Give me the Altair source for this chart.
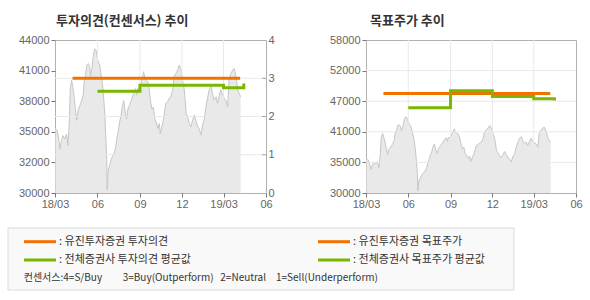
import altair as alt
import pandas as pd

# ---------------- data ----------------
price_dates = [
    "2018-03-01", "2018-03-06", "2018-03-09", "2018-03-12", "2018-03-15", "2018-03-18",
    "2018-03-22", "2018-03-26", "2018-03-29", "2018-04-01", "2018-04-03", "2018-04-06",
    "2018-04-08", "2018-04-11", "2018-04-14", "2018-04-17", "2018-04-20", "2018-04-24",
    "2018-04-27", "2018-05-01", "2018-05-03", "2018-05-06", "2018-05-09", "2018-05-12",
    "2018-05-15", "2018-05-17", "2018-05-20", "2018-05-23", "2018-05-26", "2018-05-29",
    "2018-06-01", "2018-06-04", "2018-06-06", "2018-06-10", "2018-06-13", "2018-06-17",
    "2018-06-21", "2018-06-22", "2018-06-24", "2018-06-27", "2018-07-01", "2018-07-04",
    "2018-07-08", "2018-07-11", "2018-07-14", "2018-07-17", "2018-07-19", "2018-07-22",
    "2018-07-25", "2018-07-28", "2018-07-31", "2018-08-03", "2018-08-06", "2018-08-09",
    "2018-08-13", "2018-08-16", "2018-08-19", "2018-08-22", "2018-08-25", "2018-08-27",
    "2018-08-31", "2018-09-04", "2018-09-07", "2018-09-09", "2018-09-12", "2018-09-15",
    "2018-09-18", "2018-09-21", "2018-09-24", "2018-09-27", "2018-09-30", "2018-10-03",
    "2018-10-06", "2018-10-10", "2018-10-13", "2018-10-15", "2018-10-20", "2018-10-23",
    "2018-10-27", "2018-10-31", "2018-11-03", "2018-11-07", "2018-11-11", "2018-11-14",
    "2018-11-18", "2018-11-22", "2018-11-25", "2018-11-29", "2018-12-02", "2018-12-06",
    "2018-12-10", "2018-12-13", "2018-12-17", "2018-12-20", "2018-12-24", "2018-12-28",
    "2018-12-31", "2019-01-04", "2019-01-07", "2019-01-11", "2019-01-15", "2019-01-18",
    "2019-01-22", "2019-01-26", "2019-01-29", "2019-02-02", "2019-02-05", "2019-02-09",
    "2019-02-13", "2019-02-16", "2019-02-20", "2019-02-23", "2019-02-27", "2019-03-03",
    "2019-03-06", "2019-03-10", "2019-03-13", "2019-03-17", "2019-03-21", "2019-03-24",
    "2019-03-28", "2019-04-01", "2019-04-04", "2019-04-07",
]
price_values = [
    35950, 35700, 34950, 34050, 34800, 35250,
    34950, 35400, 34350, 36500, 39550, 40300,
    39850, 38950, 37700, 36650, 37550, 38000,
    38350, 38950, 40150, 40750, 41700, 41850,
    41550, 40750, 41400, 42600, 43200, 43050,
    42300, 41850, 41700, 40450, 39550, 37100,
    33100, 30300, 32000, 32500, 33100, 33400,
    33750, 34350, 35250, 35900, 36500, 37100,
    38000, 38450, 37400, 36800, 37700, 38000,
    38450, 38800, 39250, 39550, 38950, 39550,
    39550, 40150, 40750, 41100, 40450, 40300,
    40150, 39550, 38350, 37700, 37850, 36800,
    36500, 35900, 36350, 35400, 36350, 37000,
    38200, 38350, 38650, 38800, 39450, 40650,
    40950, 41250, 41700, 41250, 40350, 39450,
    37300, 37000, 36350, 36050, 36650, 37150,
    36650, 36050, 35900, 35300, 36350, 36650,
    37900, 38800, 39450, 39750, 39100, 38500,
    38800, 38200, 38950, 39450, 38950, 38650,
    38500, 37900, 40350, 40950, 41250, 41400,
    40650, 39450, 39100, 38800,
]

# investment opinion (0-4 scale)
yj_op_dates = ["2018-04-08", "2019-04-06"]
yj_op_values = [3, 3]
avg_op_dates = ["2018-06-01", "2018-09-01", "2019-03-01", "2019-04-14"]
avg_op_values = [2.66, 2.82, 2.75, 2.86]

# target price
yj_tp_dates = ["2018-04-08", "2019-04-06"]
yj_tp_values = [48200, 48200]
avg_tp_dates = ["2018-06-01", "2018-09-01", "2018-12-01", "2019-03-01", "2019-04-15"]
avg_tp_values = [45600, 48700, 47650, 47250, 46950]

# ticks / labels
x_tick_dates = ["2018-03-01", "2018-06-01", "2018-09-01", "2018-12-01", "2019-03-01", "2019-06-01"]
x_tick_labels = ["18/03", "06", "09", "12", "19/03", "06"]
left_price_ticks = [30000, 32800, 35600, 38400, 41200, 44000]
left_price_labels = ["30000", "32000", "35000", "38000", "41000", "44000"]
op_ticks = [0, 1, 2, 3, 4]
right_price_ticks = [30000, 35600, 41200, 46800, 52400, 58000]
right_price_labels = ["30000", "35000", "41000", "47000", "52000", "58000"]

title_left = "투자의견(컨센서스) 추이"
title_right = "목표주가 추이"
legend_labels = [": 유진투자증권 투자의견", ": 유진투자증권 목표주가",
                 ": 전체증권사 투자의견 평균값", ": 전체증권사 목표주가 평균값"]
consensus_parts = ["컨센서스:4=S/Buy", "3=Buy(Outperform)", "2=Neutral", "1=Sell(Underperform)"]

# ---------------- style ----------------
ORANGE = "#f27200"
GREEN = "#7ab800"
GRID = "#e9e9e9"
AREA = "#dfdfdf"
AREA_LINE = "#c6c6c6"
NUMFONT = "Liberation Sans"
KFONT = "Noto Sans CJK KR"
legend_colors = [ORANGE, ORANGE, GREEN, GREEN]
W_L, W_R, H = 211, 210, 153
LEFT_PRICE_DOMAIN = [30000, 44000]
RIGHT_PRICE_DOMAIN = [29920, 56590]


def ms(d):
    return int(pd.Timestamp(d, tz="UTC").value // 10**6)


def dt(d):
    t = pd.Timestamp(d)
    return alt.DateTime(year=t.year, month=t.month, date=t.day, utc=True)


def label_expr(values, labels, value_expr):
    vals = ",".join(str(v) for v in values)
    labs = ",".join("'" + l + "'" for l in labels)
    return f"[{labs}][indexof([{vals}], {value_expr})]"


x_axis = alt.Axis(
    values=[dt(d) for d in x_tick_dates],
    labelExpr=label_expr([ms(d) for d in x_tick_dates], x_tick_labels, "time(datum.value)"),
    title=None, grid=False, domain=False, tickSize=4, tickColor="#777",
    labelColor="#666", labelFont=NUMFONT, labelFontSize=11, labelPadding=1,
    labelFlush=False, labelOverlap=False, minExtent=18, maxExtent=18,
)


def xenc():
    return alt.X("date:T", scale=alt.Scale(type="utc", domain=[dt(x_tick_dates[0]), dt(x_tick_dates[-1])]),
                 axis=x_axis)


price_df = pd.DataFrame({"date": price_dates, "price": price_values})
vgrid_df = pd.DataFrame({"date": x_tick_dates[1:-1]})

# ---------------- left panel ----------------
left_price_axis = alt.Axis(
    orient="left", values=left_price_ticks,
    labelExpr=label_expr(left_price_ticks, left_price_labels, "datum.value"),
    title=None, grid=False, domain=False, tickSize=4, tickColor="#777",
    labelColor="#666", labelFont=NUMFONT, labelFontSize=11, labelPadding=2,
    minExtent=47, maxExtent=47, labelFlush=False,
)
area_left = alt.Chart(price_df).mark_area(
    color=AREA, clip=True, line={"color": AREA_LINE, "strokeWidth": 1}).encode(
    x=xenc(),
    y=alt.Y("price:Q", scale=alt.Scale(domain=LEFT_PRICE_DOMAIN, zero=False, nice=False), axis=left_price_axis),
    y2=alt.Y2Datum(LEFT_PRICE_DOMAIN[0]),
)
vgrid_left = alt.Chart(vgrid_df).mark_rule(color=GRID, strokeWidth=1).encode(x=xenc())

op_scale = alt.Scale(domain=[0, 4], nice=False)
op_axis = alt.Axis(
    orient="right", values=op_ticks, title=None, grid=False, domain=False, tickSize=0,
    labelColor="#666", labelFont=NUMFONT, labelFontSize=11, labelPadding=2,
    minExtent=12, maxExtent=12, labelFlush=False,
)
op_grid_df = pd.DataFrame({"op": op_ticks[1:-1]})
hgrid_left = alt.Chart(op_grid_df).mark_rule(color=GRID, strokeWidth=1).encode(
    y=alt.Y("op:Q", scale=op_scale, axis=op_axis))
# small inward tick marks at the right edge (as in the original)
inner_ticks = alt.Chart(op_grid_df).mark_tick(color="#888", thickness=1, size=4, orient="horizontal").encode(
    x=alt.value(W_L - 2), y=alt.Y("op:Q", scale=op_scale, axis=op_axis))
yj_op = alt.Chart(pd.DataFrame({"date": yj_op_dates, "op": yj_op_values})).mark_line(
    color=ORANGE, strokeWidth=3).encode(x=xenc(), y=alt.Y("op:Q", scale=op_scale, axis=op_axis))
avg_op = alt.Chart(pd.DataFrame({"date": avg_op_dates, "op": avg_op_values})).mark_line(
    color=GREEN, strokeWidth=3, interpolate="step-after").encode(
    x=xenc(), y=alt.Y("op:Q", scale=op_scale, axis=op_axis))

left = alt.layer(
    area_left, vgrid_left, alt.layer(hgrid_left, inner_ticks, yj_op, avg_op)
).resolve_scale(y="independent").properties(
    width=W_L, height=H,
    title=alt.TitleParams(title_left, anchor="start", frame="group", fontSize=13, font=KFONT,
                          fontWeight="bold", color="#333", offset=6, dx=1),
)

# ---------------- right panel ----------------
tp_scale = alt.Scale(domain=[30000, 58000], nice=False, zero=False)
tp_axis = alt.Axis(
    orient="left", values=right_price_ticks,
    labelExpr=label_expr(right_price_ticks, right_price_labels, "datum.value"),
    title=None, grid=False, domain=False, tickSize=4, tickColor="#777",
    labelColor="#666", labelFont=NUMFONT, labelFontSize=11, labelPadding=2,
    minExtent=76, maxExtent=76, labelFlush=False,
)
area_right = alt.Chart(price_df).mark_area(
    color=AREA, clip=True, line={"color": AREA_LINE, "strokeWidth": 1}).encode(
    x=xenc(),
    y=alt.Y("price:Q", scale=alt.Scale(domain=RIGHT_PRICE_DOMAIN, zero=False, nice=False), axis=None),
    y2=alt.Y2Datum(RIGHT_PRICE_DOMAIN[0]),
)
vgrid_right = alt.Chart(vgrid_df).mark_rule(color=GRID, strokeWidth=1).encode(x=xenc())
hgrid_right = alt.Chart(pd.DataFrame({"tp": right_price_ticks[1:-1]})).mark_rule(color=GRID, strokeWidth=1).encode(
    y=alt.Y("tp:Q", scale=tp_scale, axis=tp_axis))
yj_tp = alt.Chart(pd.DataFrame({"date": yj_tp_dates, "tp": yj_tp_values})).mark_line(
    color=ORANGE, strokeWidth=3).encode(x=xenc(), y=alt.Y("tp:Q", scale=tp_scale, axis=tp_axis))
avg_tp = alt.Chart(pd.DataFrame({"date": avg_tp_dates, "tp": avg_tp_values})).mark_line(
    color=GREEN, strokeWidth=3, interpolate="step-after").encode(
    x=xenc(), y=alt.Y("tp:Q", scale=tp_scale, axis=tp_axis))

right = alt.layer(
    area_right, vgrid_right, alt.layer(hgrid_right, yj_tp, avg_tp)
).resolve_scale(y="independent").properties(
    width=W_R, height=H,
    title=alt.TitleParams(title_right, anchor="start", frame="group", fontSize=13, font=KFONT,
                          fontWeight="bold", color="#333", offset=6, dx=4),
)

# ---------------- legend box ----------------
# the legend group shares its origin with the left plot (x=54); the box starts 47px further left
dummy = pd.DataFrame({"k": [0]})
BOX_X0, BOX_W, BOX_H = -47, 506, 62
col_x = [BOX_X0 + 16, BOX_X0 + 310]
row_y = [13.7, 32]
sw_len = 32
cons_x = [BOX_X0 + 15.7, BOX_X0 + 114.7, BOX_X0 + 212.3, BOX_X0 + 268]
cons_y = 49.7

legend_layers = [
    alt.Chart(dummy).mark_rect(fill="#f9f9f9", stroke="#dcdcdc", strokeWidth=1).encode(
        x=alt.value(BOX_X0), x2=alt.value(BOX_X0 + BOX_W), y=alt.value(0), y2=alt.value(BOX_H))
]
for i, (lab, colr) in enumerate(zip(legend_labels, legend_colors)):
    cx, ry = col_x[i % 2], row_y[i // 2]
    legend_layers.append(
        alt.Chart(dummy).mark_rule(color=colr, strokeWidth=3).encode(
            x=alt.value(cx), x2=alt.value(cx + sw_len), y=alt.value(ry)))
    legend_layers.append(
        alt.Chart(dummy).mark_text(align="left", baseline="middle", font=KFONT, fontSize=11,
                                   color="#333").encode(
            x=alt.value(cx + sw_len + 3), y=alt.value(ry), text=alt.value(lab)))
for part, px in zip(consensus_parts, cons_x):
    legend_layers.append(
        alt.Chart(dummy).mark_text(align="left", baseline="middle", font=KFONT, fontSize=10,
                                   color="#333").encode(
            x=alt.value(px), y=alt.value(cons_y), text=alt.value(part)))

legend = alt.layer(*legend_layers).properties(
    width=BOX_X0 + BOX_W, height=BOX_H,
    view=alt.ViewBackground(fill="transparent", stroke="transparent"))

chart = alt.vconcat(
    alt.hconcat(left, right, spacing=10),
    legend,
    spacing=15,
).properties(
    padding={"left": 7, "top": 14, "right": 0, "bottom": 0},
    background="white",
).configure_view(stroke="#b0b0b0", strokeWidth=1)

chart.save("out.html", embed_options={"renderer": "svg", "actions": False})
